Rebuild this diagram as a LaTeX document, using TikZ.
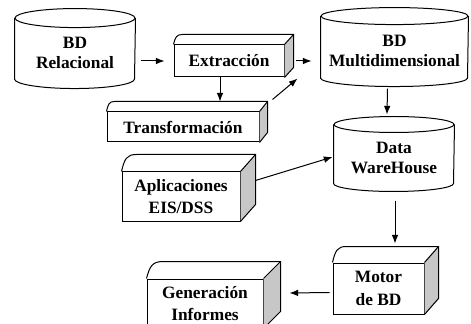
\documentclass[tikz,border=0pt]{standalone}
\usepackage{fontspec}
\setmainfont{Liberation Serif}
\newfontfamily\diagfont{Liberation Serif}
\usetikzlibrary{arrows.meta,calc}
\tikzset{every picture/.style={line width=0.75pt}}
\tikzset{
dbcan/.style={inner sep=0.75pt, align=center, font=\diagfont\fontsize{13}{15}\selectfont\bfseries},
cubebox/.style={draw, fill=white, inner sep=0.75pt, align=center, font=\diagfont\fontsize{13}{17}\selectfont\bfseries},
flecha/.style={-{Latex[length=6.5pt,width=5pt]}},
sidegray/.style={fill=black!22}}
% can drawn round a node: name, x radius, y radius
\newcommand{\dbcylinder}[3]{%
\draw (#1.north west) -- ($(#1.south west)+(0,-#3)$) arc [start angle=180, end angle=0, x radius=#2, y radius=#3] -- (#1.north east);
\draw (#1.north) ellipse [x radius=#2, y radius=#3];}
% depth of a box: name, dx, dy
\newcommand{\boxdepth}[3]{%
\fill[sidegray] (#1.north east) -- ($(#1.north east)+(#2,-#3)$) -- ($(#1.south east)+(#2,-#3)$) -- (#1.south east) -- cycle;
\draw (#1.north west) .. controls ($(#1.north west)+(0.2*#2,-0.75*#3)$) and ($(#1.north west)+(0.35*#2,-#3)$) .. ($(#1.north west)+(#2,-#3)$) -- ($(#1.north east)+(#2,-#3)$) -- ($(#1.south east)+(#2,-#3)$) -- (#1.south east);
\draw (#1.north east) -- ($(#1.north east)+(#2,-#3)$);}

\begin{document}
\begin{tikzpicture}[x=0.75pt,y=0.75pt,yscale=-1]
\useasboundingbox (0,0) rectangle (471,324);
\clip (0,0) rectangle (471,324);

%Shape: Can
\node (rel) [dbcan, minimum width=90pt, minimum height=52.1pt] at (75,53.3) {BD\\Relacional};
\dbcylinder{rel}{60}{9.5}
%Shape: Can
\node (multi) [dbcan, minimum width=110.25pt, minimum height=52.1pt] at (394.5,51.3) {BD\\Multidimensional};
\dbcylinder{multi}{73.5}{8.5}
%Shape: Can
\node (dwh) [dbcan, minimum width=90pt, minimum height=49.5pt] at (394,158) {Data\\WareHouse};
\dbcylinder{dwh}{60}{8}

%Shape: Cube
\node (extr) [cubebox, minimum width=82.5pt, minimum height=24pt] at (229,61) {Extracción};
\boxdepth{extr}{9}{10}
%Shape: Cube
\node (transf) [cubebox, minimum width=114pt, minimum height=22.5pt] at (183,127) {Transformación};
\boxdepth{transf}{8}{10}
%Shape: Cube
\node (aplic) [cubebox, minimum width=88.5pt, minimum height=36.75pt] at (181,196.5) {Aplicaciones\\EIS/DSS};
\boxdepth{aplic}{15}{17}
%Shape: Cube
\node (motor) [cubebox, minimum width=68.25pt, minimum height=38.25pt] at (378.5,288.5) {Motor\\de BD};
\boxdepth{motor}{14}{16}
%Shape: Cube
\node (gener) [cubebox, minimum width=87pt, minimum height=36.75pt] at (205,303.5) {Generación\\Informes};
\boxdepth{gener}{17}{17}

%Straight Lines
\draw [flecha, shorten <=3.75pt, shorten >=6.75pt] (extr.west -| rel.east) -- (extr.west);
%Straight Lines
\draw [flecha] ($(extr.south)+(-9,0)$) -- ($(transf.north)+(37,-10)$);
%Straight Lines
\draw [flecha, shorten <=8.25pt, shorten >=6.75pt] (extr.east) -- (extr.east -| multi.west);
%Straight Lines
\draw [flecha] ($(transf.north east)+(13,-12)$) -- ($(multi.south west)+(-23,-8)$);
%Straight Lines
\draw [flecha] ($(multi.south)+(-7,2)$) -- ($(dwh.north)+(-7,-10)$);
%Straight Lines
\draw [flecha] ($(aplic.east)+(15,-16)$) -- ($(dwh.west)+(-1,-1)$);
%Straight Lines
\draw [flecha] ($(dwh.south)+(1,9)$) -- ($(motor.north)+(16.5,-19)$);
%Straight Lines
\draw [flecha] ($(motor.west)+(-3,4)$) -- ($(gener.east)+(26,-10.5)$);

\end{tikzpicture}
\end{document}
